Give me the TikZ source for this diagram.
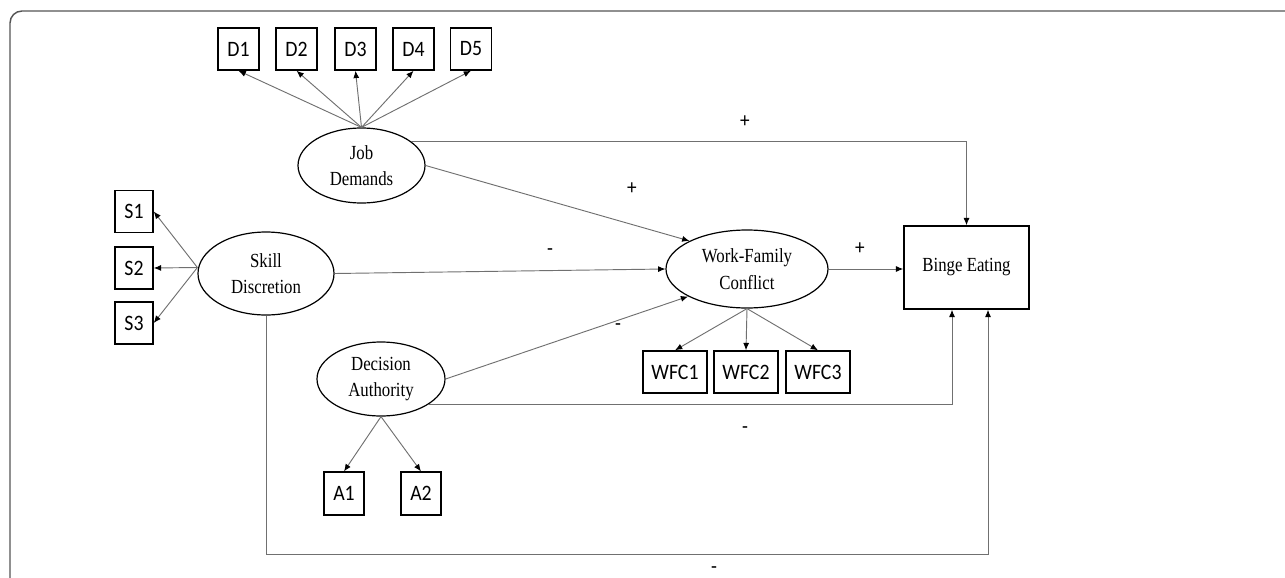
\documentclass[tikz,border=0pt]{standalone}
\usepackage{fontspec}
\setmainfont{Liberation Serif}[FakeStretch=0.84]
\newfontfamily\boxfont{Carlito}[FakeStretch=0.9]
\usetikzlibrary{positioning, arrows.meta, shapes.geometric, calc}

\definecolor{linkgray}{RGB}{112,112,112}
\definecolor{framegray}{RGB}{85,85,85}

\begin{document}
\begin{tikzpicture}[
    x=0.75pt, y=-0.75pt,
    >={Latex[length=5.5pt,width=4.5pt,color=black]},
    latent/.style={
        draw=black,
        ellipse,
        line width=0.9pt,
        inner sep=0pt,
        align=center,
        font=\fontsize{15}{20}\selectfont
    },
    indicator/.style={
        draw=black,
        line width=1.1pt,
        minimum width=30.75pt,
        minimum height=31.5pt,
        inner sep=0pt,
        font=\boxfont\fontsize{16.5}{18}\selectfont
    },
    wfcbox/.style={
        indicator,
        minimum width=48pt
    },
    outcome/.style={
        draw=black,
        line width=1.1pt,
        minimum width=93.75pt,
        minimum height=62.25pt,
        font=\fontsize{15}{18}\selectfont
    },
    signtext/.style={
        font=\boxfont\fontsize{16}{18}\selectfont
    },
    loading/.style={->, draw=linkgray, line width=0.7pt},
    path/.style={->, draw=linkgray, line width=0.7pt}
]
% ============================================================
% PAGE AND FRAME
% ============================================================
\useasboundingbox (0,0) rectangle (1285,578);
\clip (0,0) rectangle (1285,578);
\draw[framegray, line width=1.1pt, rounded corners=9pt]
    (10,11) rectangle (1320,620);
% ============================================================
% LATENT CONSTRUCTS
% ============================================================
\node[latent, minimum width=95.25pt, minimum height=56.25pt]
    (jd) at (361.5,165.5) {Job\\Demands};
\node[latent, minimum width=102pt, minimum height=62.25pt]
    (sd) at (266,273.5) {Skill\\Discretion};
\node[latent, minimum width=96pt, minimum height=55.5pt]
    (da) at (381,379) {Decision\\Authority};
\node[latent, minimum width=121.5pt, minimum height=58.5pt]
    (wfc) at (747,269) {Work-Family\\Conflict};
\node[outcome] (binge) at (966.5,267.5) {Binge Eating};
% ============================================================
% INDICATORS
% ============================================================
\node[indicator] (d1) at (238.5,49) {D1};
\node[indicator] (d2) at (296.5,49) {D2};
\node[indicator] (d3) at (355.5,49) {D3};
\node[indicator] (d4) at (413.5,49) {D4};
\node[indicator] (d5) at (471,49)   {D5};
\node[indicator, minimum width=28.5pt] (s1) at (134,211.5) {S1};
\node[indicator, minimum width=28.5pt] (s2) at (134,268)   {S2};
\node[indicator, minimum width=28.5pt] (s3) at (134,323)   {S3};
\node[indicator, minimum width=30pt, minimum height=32pt] (a1) at (344,493.5) {A1};
\node[indicator, minimum width=30pt, minimum height=32pt] (a2) at (421,493.5) {A2};
\node[wfcbox] (wfc1) at (675,372) {WFC1};
\node[wfcbox] (wfc2) at (746,372) {WFC2};
\node[wfcbox] (wfc3) at (818,372) {WFC3};
% ============================================================
% MEASUREMENT ARROWS
% ============================================================
\foreach \d in {d1,d2,d3,d4,d5}
    \draw[loading] (jd.north) -- (\d.south);
\foreach \s in {s1,s2,s3}
    \draw[loading] ($(sd.west)+(0,-6)$) -- (\s.east);
\foreach \a in {a1,a2}
    \draw[loading] (da.south) -- (\a.north);
\foreach \w in {wfc1,wfc2,wfc3}
    \draw[loading] (wfc.south) -- (\w.north);
% ============================================================
% STRUCTURAL PATHS
% ============================================================
\draw[path] (jd.26)   -| (binge.north);
\draw[path] (jd.east) -- (wfc.154);
\draw[path] (sd.east) -- (wfc.west);
\draw[path] (da.east) -- (wfc.205);
\draw[path] (wfc.east) -- (wfc.east -| binge.west);
\draw[path] (da.332)  -| ($(binge.south)+(-14.5,0)$);
\draw[path] (sd.south) -- ++(0,239) -| ($(binge.south)+(21.5,0)$);
% ============================================================
% SIGNS
% ============================================================
\node[signtext] (sgnjdbe)  at (745,122) {+};
\node[signtext] (sgnjdwfc) at (632,189) {+};
\node[signtext] (sgnsdwfc) at (550,252) {-};
\node[signtext] (sgnwfcbe) at (860,249) {+};
\node[signtext] (sgndawfc) at (618,327) {-};
\node[signtext] (sgndabe)  at (745,430) {-};
\node[signtext] (sgnsdbe)  at (714,570) {-};
\end{tikzpicture}
\end{document}
